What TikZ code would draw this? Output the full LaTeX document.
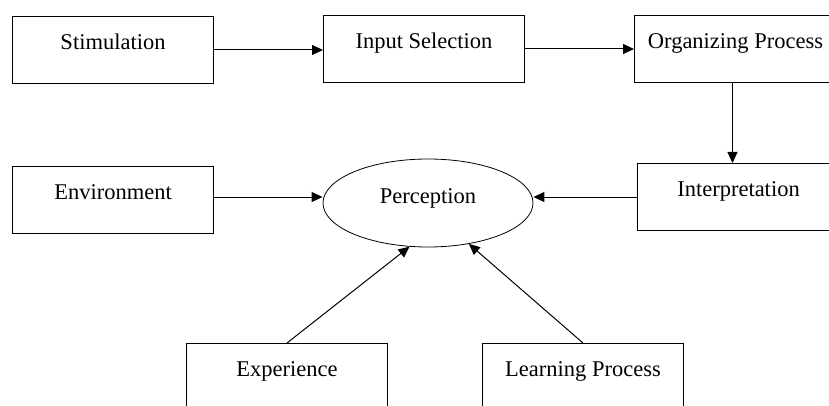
\documentclass[tikz,border=0pt]{standalone}
\usepackage{fontspec}
\setmainfont{Liberation Serif}
\usetikzlibrary{arrows.meta,shapes.geometric}
\begin{document}
\begin{tikzpicture}[x=1pt,y=-1pt,
  box/.style={draw, line width=1pt, minimum width=201pt, inner sep=0pt,
    text height=33pt, text depth=34pt, anchor=north west,
    font=\fontsize{22.5}{25}\selectfont},
  oval/.style={ellipse, draw, line width=0.8pt, minimum width=210pt,
    minimum height=88pt, inner sep=0pt, text height=8pt, text depth=8pt,
    font=\fontsize{22.5}{25}\selectfont},
  arr/.style={-{Triangle[length=11pt,width=10pt]}, line width=1pt}
]
\useasboundingbox (0,0) rectangle (829,406);
\clip (0,0) rectangle (829,406);
\node[box] (stim) at (12,16) {Stimulation};
\node[box] (inp) at (323,15) {Input Selection};
\node[box, minimum width=202pt] (org) at (634,15) {Organizing Process};
\node[box] (env) at (12,166) {Environment};
\node[box, minimum width=202pt] (interp) at (637,163) {Interpretation};
\node[box] (exp) at (186,343) {Experience};
\node[box] (learn) at (482,343) {Learning Process};
\node[oval] (perc) at (428,203) {Perception};
\draw[arr] (stim.east) -- (stim.east -| inp.west);
\draw[arr] (inp.east) -- (inp.east -| org.west);
\draw[arr] ([xshift=-3pt]org.south) -- ([xshift=-3pt]org.south |- interp.north);
\draw[arr] (interp.west) -- (interp.west -| perc.east);
\draw[arr] ([yshift=3pt]env.east) -- ([yshift=3pt]env.east -| perc.west);
\draw[arr] (exp.north) -- (perc.247);
\draw[arr] (learn.north) -- (perc.-45);
\end{tikzpicture}
\end{document}
